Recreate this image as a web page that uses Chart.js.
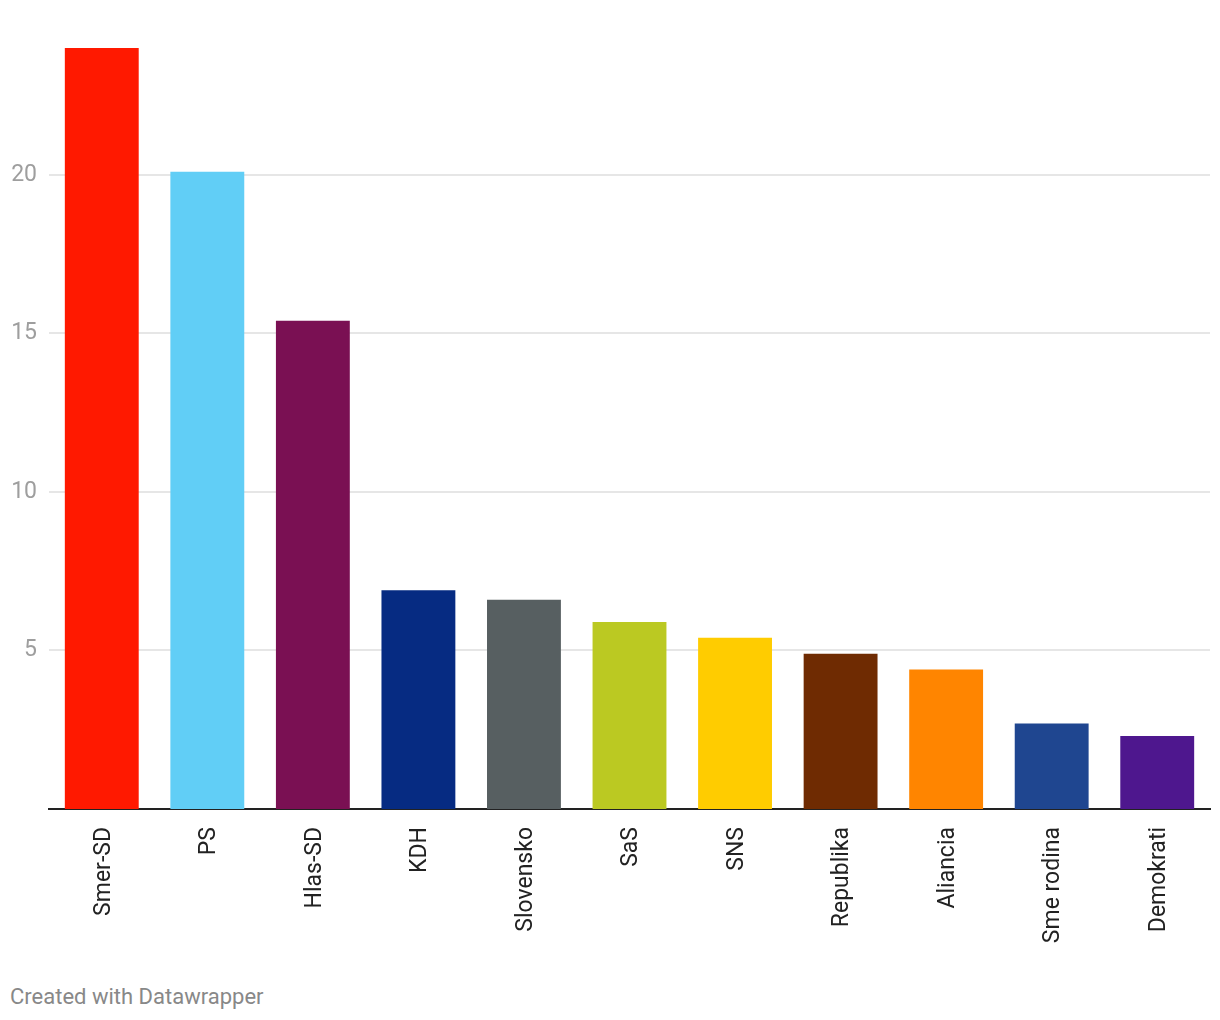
<!DOCTYPE html>
<html>
<head>
<meta charset="utf-8">
<script src="https://cdn.jsdelivr.net/npm/chart.js@4"></script>
<style>
  body { margin: 0; background: #fff; font-family: Roboto, sans-serif; }
  #wrap { position: relative; width: 1220px; height: 1020px; }
  #footer { position: absolute; left: 10px; top: 984px; font-size: 22px; color: #888; }
</style>
</head>
<body>
<div id="wrap">
  <canvas id="chart" width="1220" height="949"></canvas>
  <div id="footer">Created with Datawrapper</div>
</div>
<script>
// party results (%)
const parties = ['Smer-SD', 'PS', 'Hlas-SD', 'KDH', 'Slovensko', 'SaS', 'SNS', 'Republika', 'Aliancia', 'Sme rodina', 'Demokrati'];
const values = [24.0, 20.1, 15.4, 6.9, 6.6, 5.9, 5.4, 4.9, 4.4, 2.7, 2.3];
const barColors = ['#ff1900', '#61cef6', '#7a1053', '#062b82', '#575f61', '#bbc922', '#ffcc00', '#6f2b02', '#ff8500', '#1f4690', '#4e178e'];
const yTicks = [5, 10, 15, 20];

const ctx = document.getElementById('chart').getContext('2d');
new Chart(ctx, {
    type: 'bar',
    data: {
        labels: parties,
        datasets: [{
            data: values,
            backgroundColor: barColors,
            borderWidth: 0,
            categoryPercentage: 0.7,
            barPercentage: 1
        }]
    },
    options: {
        responsive: false,
        animation: false,
        layout: { padding: { top: 48, right: 10, left: 0, bottom: 0 } },
        plugins: {
            legend: { display: false },
            tooltip: { enabled: false }
        },
        scales: {
            x: {
                grid: { display: false },
                border: { color: '#222', width: 2 },
                ticks: {
                    minRotation: 90,
                    maxRotation: 90,
                    padding: 10,
                    labelOffset: 2,
                    color: '#222',
                    font: { family: 'Roboto', size: 23 }
                },
                afterFit: function(scale) { scale.height = 140; }
            },
            y: {
                min: 0,
                max: 24,
                border: { display: false },
                grid: { color: '#e6e6e6', lineWidth: 2, drawTicks: false },
                ticks: {
                    padding: 12,
                    color: '#9e9e9e',
                    font: { family: 'Roboto', size: 23 }
                },
                afterBuildTicks: function(scale) {
                    scale.ticks = yTicks.map(v => ({ value: v }));
                },
                afterFit: function(scale) { scale.width = 49; }
            }
        }
    }
});
</script>
</body>
</html>
